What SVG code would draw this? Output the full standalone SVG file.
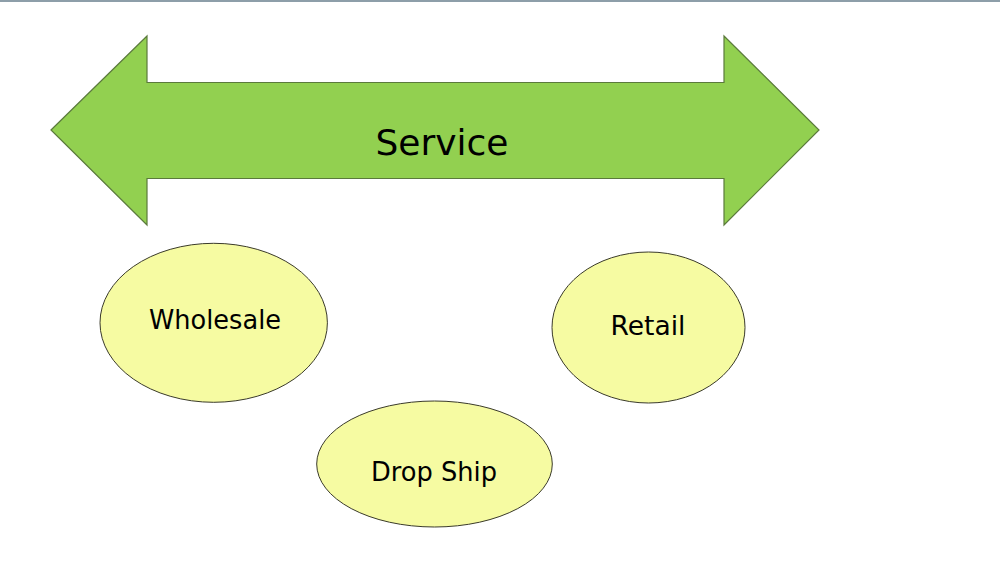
<svg xmlns="http://www.w3.org/2000/svg" width="1000" height="562" viewBox="0 0 1000 562">
<style>
.bg{fill:#ffffff}
.arrow{fill:#92d050;stroke:#5b7a3c;stroke-width:1.2}
.node{fill:#f6fba2;stroke:#3a3a2a;stroke-width:1}
.lbl{font-family:"Comic Sans MS","DejaVu Sans",sans-serif;fill:#000;text-anchor:middle}
</style>
<rect class="bg" x="0" y="0" width="1000" height="562"/>
<line x1="0" y1="1" x2="1000" y2="1" stroke="#8d9ea9" stroke-width="2"/>
<g id="service">
<polygon class="arrow" points="51,130 147,36 147,82.5 724,82.5 724,36 819,130 724,225 724,178.5 147,178.5 147,225"/>
<text class="lbl" x="442" y="155" font-size="36" textLength="133" lengthAdjust="spacingAndGlyphs">Service</text>
</g>
<g id="wholesale">
<ellipse class="node" cx="213.7" cy="322.8" rx="113.7" ry="79.5"/>
<text class="lbl" x="215" y="329" font-size="26" textLength="132" lengthAdjust="spacingAndGlyphs">Wholesale</text>
</g>
<g id="retail">
<ellipse class="node" cx="648.5" cy="327.5" rx="96.5" ry="75.5"/>
<text class="lbl" x="648" y="335" font-size="26" textLength="75" lengthAdjust="spacingAndGlyphs">Retail</text>
</g>
<g id="dropship">
<ellipse class="node" cx="434.5" cy="464" rx="117.8" ry="63"/>
<text class="lbl" x="434" y="481" font-size="26" textLength="126" lengthAdjust="spacingAndGlyphs">Drop Ship</text>
</g>
<g id="connectors"></g>
</svg>
